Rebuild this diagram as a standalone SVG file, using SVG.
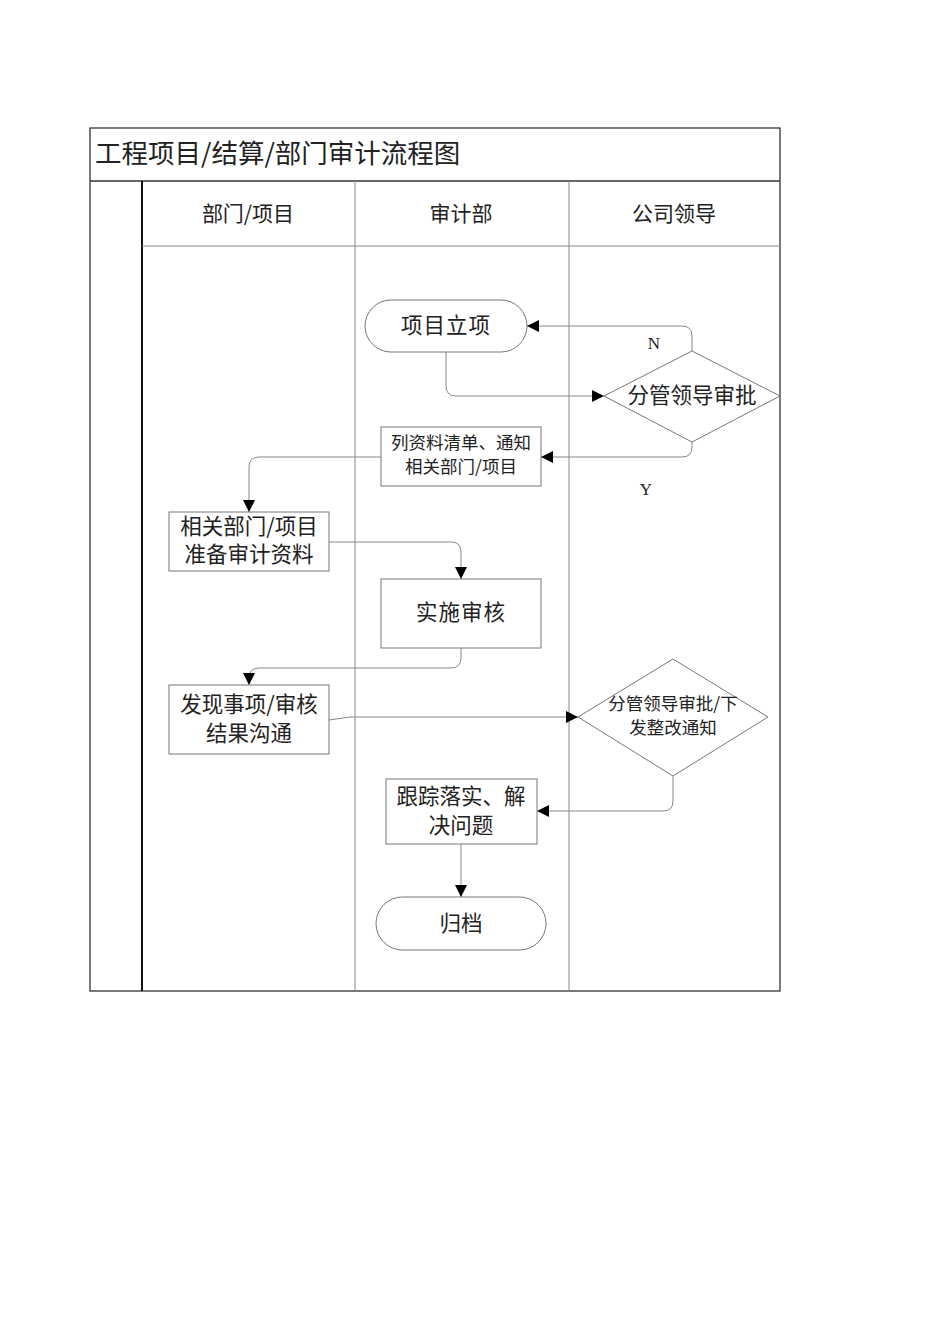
<svg xmlns="http://www.w3.org/2000/svg" width="950" height="1344" viewBox="0 0 950 1344">
<defs>
<style>
text{font-family:"Noto Sans CJK SC","Liberation Serif",serif;fill:#222;text-anchor:middle}
.frame{stroke:#333;stroke-width:1.3;fill:none}
.thin{stroke:#888;stroke-width:1;fill:none}
.node{fill:#fff;stroke:#777;stroke-width:1}
.conn{stroke:#888;stroke-width:1;fill:none;marker-end:url(#arr)}
.t22{font-size:21.5px}
.t18{font-size:17.5px}
.hd{font-size:21px}
.lbl{font-family:"Liberation Serif",serif;font-size:17px}
</style>
<marker id="arr" viewBox="0 0 10 10" refX="10" refY="5" markerWidth="12" markerHeight="12" markerUnits="userSpaceOnUse" orient="auto">
<path d="M0,0 L10,5 L0,10 z" fill="#000"/>
</marker>
</defs>
<rect width="950" height="1344" fill="#fff"/>
<g id="frame">
<rect class="frame" x="90" y="128" width="690" height="863"/>
<line class="frame" x1="90" y1="181" x2="780" y2="181"/>
<line x1="142" y1="181" x2="142" y2="991" stroke="#111" stroke-width="2"/>
<line class="thin" x1="142" y1="246" x2="780" y2="246"/>
<line class="thin" x1="355" y1="181" x2="355" y2="991"/>
<line class="thin" x1="569" y1="181" x2="569" y2="991"/>
<text x="95" y="163" style="text-anchor:start;font-size:26.5px">工程项目/结算/部门审计流程图</text>
<text class="hd" x="248" y="221">部门/项目</text>
<text class="hd" x="461" y="221">审计部</text>
<text class="hd" x="674" y="221">公司领导</text>
</g>
<g id="connectors">
<path class="conn" d="M446,352 V386 Q446,396 456,396 H604"/>
<path class="conn" d="M692,351 V336 Q692,326 682,326 H527"/>
<path class="conn" d="M692,442 V447 Q692,457 682,457 H541"/>
<path class="conn" d="M381,457 H259 Q249,457 249,467 V512"/>
<path class="conn" d="M329,542 H451 Q461,542 461,552 V579"/>
<path class="conn" d="M461,648 V658 Q461,668 451,668 H259 Q249,668 249,678 V685"/>
<path class="conn" d="M329,720 L350,717 H578"/>
<path class="conn" d="M673,776 V801 Q673,811 663,811 H537"/>
<path class="conn" d="M461,844 V897"/>
<text class="lbl" x="654" y="349">N</text>
<text class="lbl" x="646" y="495">Y</text>
</g>
<g id="n1">
<rect class="node" x="365" y="300" width="162" height="52" rx="26"/>
<text class="t22" x="446" y="333" letter-spacing="1">项目立项</text>
</g>
<g id="n2">
<polygon class="node" points="692,351 780,396 692,442 604,396"/>
<text class="t22" x="692" y="403">分管领导审批</text>
</g>
<g id="n3">
<rect class="node" x="381" y="427" width="160" height="59"/>
<text class="t18" x="461" y="449"><tspan x="461">列资料清单、通知</tspan><tspan x="461" dy="23.5">相关部门/项目</tspan></text>
</g>
<g id="n4">
<rect class="node" x="169" y="512" width="160" height="59"/>
<text class="t22" x="249" y="534"><tspan x="249">相关部门/项目</tspan><tspan x="249" dy="28">准备审计资料</tspan></text>
</g>
<g id="n5">
<rect class="node" x="381" y="579" width="160" height="69"/>
<text class="t22" x="461" y="620" letter-spacing="1">实施审核</text>
</g>
<g id="n6">
<rect class="node" x="169" y="685" width="160" height="69"/>
<text class="t22" x="249" y="712"><tspan x="249">发现事项/审核</tspan><tspan x="249" dy="28.5">结果沟通</tspan></text>
</g>
<g id="n7">
<polygon class="node" points="673,659 768,717 673,776 578,717"/>
<text class="t18" x="673" y="710"><tspan x="673">分管领导审批/下</tspan><tspan x="673" dy="23.5">发整改通知</tspan></text>
</g>
<g id="n8">
<rect class="node" x="386" y="779" width="151" height="65"/>
<text class="t22" x="461" y="804"><tspan x="461">跟踪落实、解</tspan><tspan x="461" dy="28.5">决问题</tspan></text>
</g>
<g id="n9">
<rect class="node" x="376" y="897" width="170" height="53" rx="26.5"/>
<text class="t22" x="461" y="931">归档</text>
</g>
</svg>
